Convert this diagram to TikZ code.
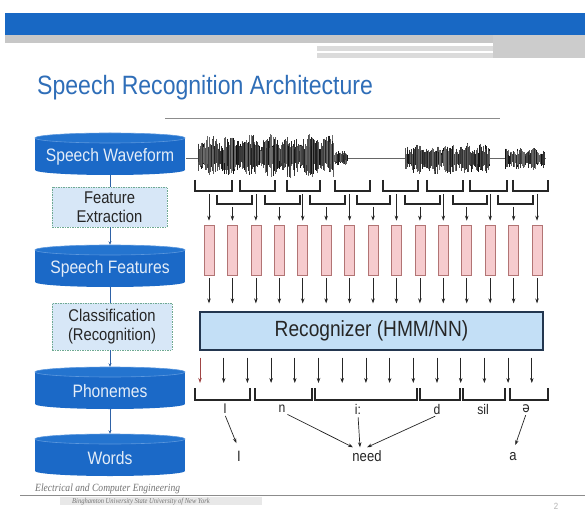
\documentclass[tikz,border=0pt]{standalone}
\usepackage{fontspec}
\setmainfont{Liberation Sans}[FakeStretch=0.87]
\newfontfamily\footfont{Liberation Serif}[FakeStretch=0.87]
\newfontfamily\ipafont{DejaVu Sans}[FakeStretch=0.87]
\usetikzlibrary{arrows.meta}

\definecolor{hdrblue}{HTML}{1868C4}
\definecolor{titleblue}{HTML}{2F6EB8}
\definecolor{cylblue}{HTML}{1B69C7}
\definecolor{cyltopc}{HTML}{2474CF}
\definecolor{cyledge}{HTML}{5C98DE}
\definecolor{cyltxt}{HTML}{E4EDF8}
\definecolor{linkblue}{HTML}{2F62A6}
\definecolor{procfill}{HTML}{D7E7F7}
\definecolor{procedge}{HTML}{6FAA92}
\definecolor{framefill}{HTML}{F6CBCE}
\definecolor{frameedge}{HTML}{B27474}
\definecolor{recfill}{HTML}{C3DFF6}
\definecolor{recedge}{HTML}{23364F}
\definecolor{ink}{HTML}{262626}
\definecolor{redarrow}{HTML}{A04545}

% database-style cylinder: name, centre x, centre y, label
\newcommand\dbcyl[4]{%
  \fill[cylblue] (#2-75,#3-16) rectangle (#2+75,#3+16);
  \fill[cylblue] (#2,#3+16) ellipse [x radius=75, y radius=5];
  \filldraw[fill=cyltopc, draw=cyledge, line width=0.6pt] (#2,#3-16) ellipse [x radius=75, y radius=5];
  \node[cylshape] (#1) at (#2,#3) {};
  \node[cyllabel] (#1-t) at (#2,#3+3) {#4};
}

% one waveform stroke: x, baseline, envelope
\newcommand\wavestroke[3]{%
  \pgfmathsetmacro\up{#3*(0.35+0.65*rnd)}%
  \pgfmathsetmacro\dn{#3*(0.35+0.65*rnd)}%
  \pgfmathtruncatemacro\shade{55+40*rnd}%
  \draw[wavepen, draw=black!\shade] (#1,#2-\up) -- (#1,#2+\dn);
}

\begin{document}
\begin{tikzpicture}[x=1pt,y=-1pt,
  cylshape/.style={minimum width=150pt, minimum height=42pt, inner sep=0pt},
  cyllabel/.style={inner sep=0pt, text=cyltxt, font=\fontsize{18}{21}\selectfont},
  procbox/.style={draw=procedge, fill=procfill, dash pattern=on 1.5pt off 1pt,
    line width=0.8pt, align=center, font=\fontsize{17}{19.5}\selectfont,
    text=black!85, inner sep=0pt},
  link/.style={draw=linkblue, line width=1pt},
  withtip/.style={-{Stealth[length=3.5pt,width=3pt]}},
  fbar/.style={draw=frameedge, fill=framefill, minimum width=10pt,
    minimum height=50pt, inner sep=0pt, line width=0.6pt},
  brk/.style={draw=ink, line width=1.3pt},
  dnarrow/.style={draw=ink, line width=0.7pt, -{Stealth[length=5pt,width=3.5pt]}},
  phlabel/.style={font=\fontsize{14}{16}\selectfont, text=ink, inner sep=1pt},
  wdlabel/.style={font=\fontsize{15}{17}\selectfont, text=ink, inner sep=1pt},
  wavepen/.style={line width=0.55pt}]

\useasboundingbox (0,0) rectangle (585,510);
\fill[white] (0,0) rectangle (585,510);

% slide header band
\fill[hdrblue] (5,13) rectangle (585,35);
\fill[black!22] (5,35) rectangle (585,43);
\fill[black!14] (317,46) rectangle (585,58);
\fill[black!20] (493,35) rectangle (585,58);
\draw[white, line width=1.2pt] (317,52) -- (493,52);

% title
\node[anchor=base west, text=titleblue, inner sep=0pt,
  font=\fontsize{26.5}{30}\selectfont] (title) at (37,95) {Speech Recognition Architecture};
\draw[black!45, line width=0.8pt] (165,118) -- (500,118);

% processing chain on the left
\dbcyl{wave}{110}{154}{Speech Waveform}
\dbcyl{feat}{110}{266}{Speech Features}
\dbcyl{phon}{110}{388}{Phonemes}
\dbcyl{word}{110}{455}{Words}

\node[procbox, minimum width=115pt, minimum height=40pt] (fe) at (109.5,207) {Feature\\Extraction};
\node[procbox, minimum width=120pt, minimum height=47pt] (cls) at (112,326.5) {Classification\\(Recognition)};

\draw[link] (wave.south) -- (wave.south |- fe.north);
\draw[link, withtip] (wave.south |- fe.south) -- (feat.north);
\draw[link] (feat.south) -- (feat.south |- cls.north);
\draw[link, withtip] (feat.south |- cls.south) -- (phon.north);
\draw[link, withtip] (phon.south) -- (word.north);

% speech waveform
\draw[black!60, line width=0.6pt] (186,158) -- (546,158);
\pgfmathsetseed{11}
\foreach \x in {198,198.6,...,334} {
  \pgfmathsetmacro\env{22*(0.6+0.4*abs(sin(\x*9)))}
  \wavestroke{\x}{156}{\env}
}
\foreach \x in {334.5,335,...,347} {
  \wavestroke{\x}{158}{7}
}
\foreach \x in {405,405.6,...,490} {
  \pgfmathsetmacro\env{16*(0.6+0.4*abs(sin(\x*11)))}
  \wavestroke{\x}{159}{\env}
}
\foreach \x in {505,505.6,...,545} {
  \pgfmathsetmacro\env{11*(0.6+0.4*abs(sin(\x*13)))}
  \wavestroke{\x}{159}{\env}
}

% overlapping analysis windows
\foreach \a/\b in {195/232,240/275,287/320,335/370,383/418,427/463,470/507,513/548}
  \draw[brk] (\a,180) -- (\a,191) -- (\b,191) -- (\b,180);
\foreach \a/\b in {217/252,265/300,310/345,357/390,405/440,453/487,498/533}
  \draw[brk] (\a,195) -- (\a,204) -- (\b,204) -- (\b,195);

% feature vectors
\foreach \i in {0,...,14} {
  \pgfmathsetmacro\fx{209+23.43*\i}
  \pgfmathsetmacro\sy{ifthenelse(mod(\i,2)==0,194,207)}
  \node[fbar] (f\i) at (\fx,250) {};
  \coordinate (s\i) at (\fx,\sy);
  \draw[dnarrow, shorten >=4pt] (s\i) -- (f\i.north);
}

% recognizer
\node[draw=recedge, fill=recfill, line width=1.2pt, minimum width=343pt,
  minimum height=38pt, font=\fontsize{22}{26}\selectfont, text=black!85]
  (rec) at (371.5,331) {Recognizer (HMM/NN)};
\foreach \i in {0,...,14}
  \draw[dnarrow, shorten <=3pt, shorten >=8pt] (f\i.south) -- (f\i.south |- rec.north);

% frame-level outputs
\foreach \j in {0,...,14} {
  \pgfmathsetmacro\ox{200+23.7*\j}
  \coordinate (o\j) at (\ox,383);
}
\draw[dnarrow, draw=redarrow, shorten <=7pt] (rec.south -| o0) -- (o0);
\foreach \j in {1,...,14}
  \draw[dnarrow, shorten <=7pt] (rec.south -| o\j) -- (o\j);

% phone segments
\foreach \a/\b in {195/250,255/312,315/417,420/460,463/505,510/548}
  \draw[brk] (\a,388) -- (\a,400) -- (\b,400) -- (\b,388);

\node[phlabel] (pI) at (225,409) {I};
\node[phlabel] (pn) at (282,409) {n};
\node[phlabel] (pi) at (358,409) {i:};
\node[phlabel] (pd) at (437,409) {d};
\node[phlabel] (ps) at (483,409) {sil};
\node[phlabel, font=\ipafont\fontsize{14}{16}\selectfont] (pe) at (526,409) {ə};

\node[wdlabel] (wI) at (239,456) {I};
\node[wdlabel] (need) at (367,456) {need};
\node[wdlabel] (wa) at (513,457) {a};

\draw[dnarrow, shorten <=1pt, shorten >=7pt] (pI.south) -- (wI.north);
\draw[dnarrow, shorten <=1pt] (pn.south east) -- ([xshift=-14pt,yshift=2pt]need.north);
\draw[dnarrow, shorten <=2pt] (pi.south) -- ([xshift=-7pt,yshift=2pt]need.north);
\draw[dnarrow, shorten <=2pt] (pd.south) -- ([yshift=2pt]need.north);
\draw[dnarrow, shorten <=1pt, shorten >=7pt] (pe.south) -- (wa.north);

% slide footer
\draw[black!45, line width=1pt] (20,495) -- (585,495);
\fill[black!9] (60,497) rectangle (262,505);
\node[anchor=base west, inner sep=0pt, text=black!55,
  font=\footfont\itshape\fontsize{11}{12}\selectfont] (dept) at (35,491) {Electrical and Computer Engineering};
\node[anchor=base west, inner sep=0pt, text=black!55,
  font=\footfont\itshape\fontsize{7.5}{9}\selectfont] (univ) at (72,503.5) {Binghamton University State University of New York};
\node[text=black!30, inner sep=0pt, font=\fontsize{9}{10}\selectfont] (pg) at (556,506) {2};
\end{tikzpicture}
\end{document}
